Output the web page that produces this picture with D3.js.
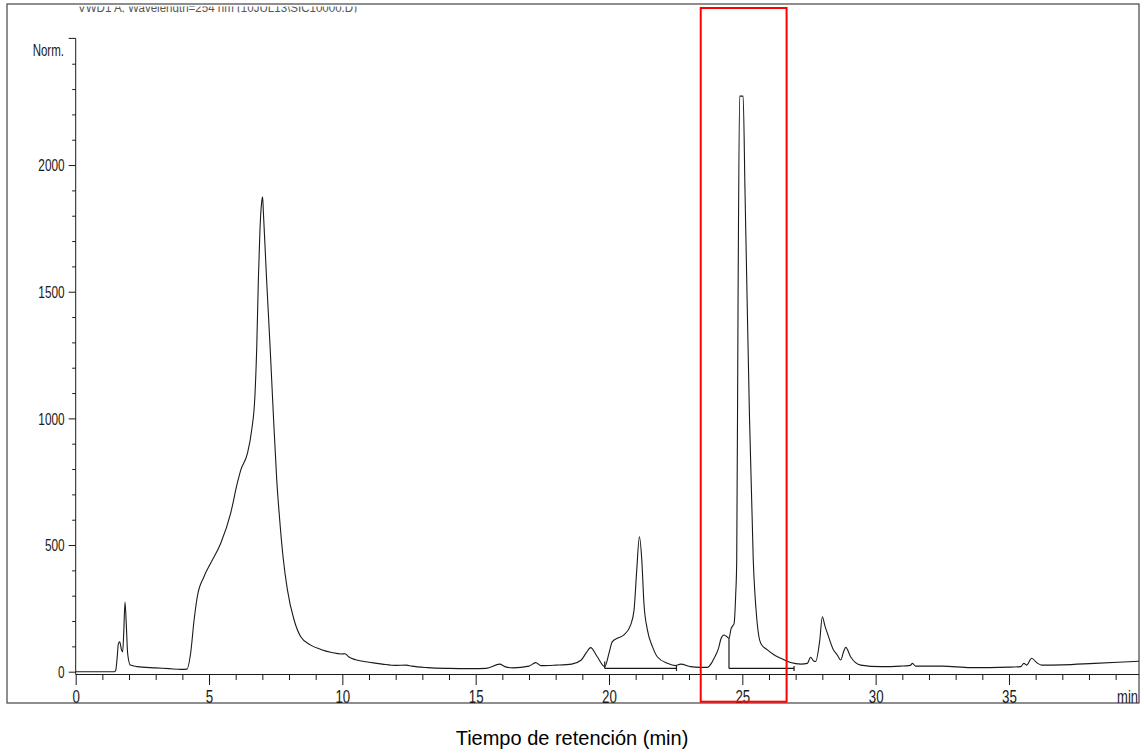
<!DOCTYPE html>
<html><head><meta charset="utf-8">
<script src="https://cdn.jsdelivr.net/npm/d3@7"></script>
<style>
html,body{margin:0;padding:0;background:#fff;}
svg{display:block;font-family:"Liberation Sans",Arial,sans-serif;}
</style></head>
<body>
<svg id="chart" width="1144" height="755"></svg>
<script>
// ---- data ----
const headerText = "VWD1 A, Wavelength=254 nm (10JUL13\\SIC10000.D)";
const yLabel = "Norm.";
const xUnit = "min";
const xTitle = "Tiempo de retención (min)";
const xMajorTicks = [0, 5, 10, 15, 20, 25, 30, 35];
const yMajorTicks = [0, 500, 1000, 1500, 2000];
const timeMin = [
  0, 1.45, 1.5, 1.55, 1.6, 1.65, 1.72, 1.76, 1.8, 1.85, 1.9, 1.95, 2.05, 2.3, 3.0, 3.5, 3.94, 4.17,
  4.31, 4.44, 4.56, 4.81, 5.06, 5.44, 5.81, 6.06, 6.19, 6.44, 6.6, 6.72, 6.79, 6.85, 6.91, 6.97, 7.01,
  7.04, 7.1, 7.16, 7.29, 7.41, 7.54, 7.65, 7.78, 7.94, 8.19, 8.44, 8.81, 9.19, 9.6, 9.95, 10.1, 10.25, 10.5,
  11.0, 11.5, 12.0, 12.4, 12.6, 13.2, 14.0, 14.8, 15.4, 15.9, 16.1, 16.4, 17.0, 17.25, 17.45, 18.0,
  18.6, 18.95, 19.15, 19.31, 19.56, 19.84, 20.0, 20.12, 20.31, 20.56, 20.81, 20.94, 21.04, 21.14,
  21.23, 21.31, 21.44, 21.63, 21.81, 22.19, 22.5, 22.69, 23.06, 23.4, 23.69, 23.85, 23.94, 24.1,
  24.2, 24.31, 24.4, 24.5, 24.58, 24.62, 24.69, 24.75, 24.79, 24.84, 24.9, 25.03, 25.1, 25.18,
  25.27, 25.41, 25.55, 25.69, 25.94, 26.2, 26.44, 26.81, 27.2, 27.44, 27.56, 27.68, 27.75, 27.9,
  28.0, 28.1, 28.19, 28.4, 28.56, 28.69, 28.8, 28.88, 29.06, 29.44, 30.19, 30.94, 31.3, 31.38,
  31.5, 32.5, 33.56, 35.0, 35.44, 35.56, 35.66, 35.85, 36.05, 36.22, 37.0, 38.2, 40
];
const signalNorm = [
  0, 0, 5, 50, 110, 118, 85, 78, 150, 275, 180, 70, 26, 20, 15, 12, 9, 10,
  73, 204, 296, 375, 428, 507, 625, 744, 796, 862, 954, 1086, 1283, 1546, 1744, 1850, 1875,
  1810, 1680, 1546, 1283, 1020, 757, 600, 450, 323, 204, 138, 105, 88, 76, 70, 71, 58, 47,
  37, 30, 25, 26, 22, 16, 13, 12, 13, 30, 20, 15, 22, 36, 24, 26,
  30, 45, 75, 95, 59, 20, 73, 118, 132, 145, 184, 244, 401, 533,
  441, 270, 165, 99, 59, 33, 24, 30, 20, 17, 17, 35, 53, 90,
  130, 145, 140, 132, 170, 178, 190, 300, 441, 1467, 2272, 2272, 1900, 1467,
  1000, 441, 200, 112, 86, 66, 53, 36, 30, 33, 57, 42, 40, 120,
  217, 180, 152, 90, 66, 46, 80, 96, 59, 26, 20, 22, 25, 33,
  22, 22, 16, 18, 20, 33, 26, 53, 35, 26, 27, 33, 42
];
// integration baselines: [start min, end min, level]
const baselineStart = [19.84, 24.5];
const baselineEnd = [22.53, 26.94];
const baselineLevel = [13, 13];
const baselineDropFrom = [null, 132];
// highlighted retention window (min)
const highlightWindow = [23.44, 26.66];

// ---- drawing ----
const svg = d3.select("#chart");
const frame = {x0: 7, y0: 4, x1: 1139, y1: 703};
const x = d3.scaleLinear().domain([0, 40]).range([75.7, 1142.3]);
const y = d3.scaleLinear().domain([0, 2500]).range([671.7, 38.4]);
const axisY = 674.5;
const inkColor = "#1a1a1a";
const FONT = "Liberation Sans, Arial, sans-serif";

svg.append("defs").append("clipPath").attr("id", "plotclip")
  .append("rect").attr("x", frame.x0).attr("y", frame.y0).attr("width", frame.x1 - frame.x0).attr("height", frame.y1 - frame.y0);
svg.select("defs").append("clipPath").attr("id", "hdrclip")
  .append("rect").attr("x", 60).attr("y", 6.5).attr("width", 400).attr("height", 6);

// header (clipped)
svg.append("text").attr("x", 78).attr("y", 11.5).attr("font-size", 12.5)
  .attr("textLength", 279).attr("lengthAdjust", "spacingAndGlyphs")
  .attr("fill", "#555").attr("clip-path", "url(#hdrclip)").text(headerText);

// outer frame
svg.append("rect").attr("x", frame.x0).attr("y", frame.y0)
  .attr("width", frame.x1 - frame.x0).attr("height", frame.y1 - frame.y0)
  .attr("fill", "none").attr("stroke", "#444").attr("stroke-width", 1.2);

// helper for condensed text
function ctext(g, tx, ty, str, size, sx, anchor) {
  return g.append("text").attr("transform", `translate(${tx},${ty}) scale(${sx},1)`)
    .attr("font-size", size).attr("text-anchor", anchor).attr("fill", inkColor).text(str);
}

// Y axis
const yMinor = d3.range(100, 2500, 100).filter(v => v % 500 !== 0);
const gY = svg.append("g").attr("transform", `translate(${x(0)},0)`);
gY.call(d3.axisLeft(y).tickValues(yMinor).tickSize(3.5).tickSizeOuter(0).tickFormat(""));
gY.call(g => g.select(".domain").remove());
const gYm = svg.append("g").attr("transform", `translate(${x(0)},0)`);
gYm.call(d3.axisLeft(y).tickValues(yMajorTicks).tickSize(7).tickSizeOuter(7).tickFormat(d3.format("d")));
gYm.selectAll(".tick text").attr("x", 0).attr("dy", null)
  .attr("transform", "translate(-11,5.8) scale(0.74,1)").attr("font-size", 16)
  .attr("font-family", FONT).attr("fill", inkColor);
gYm.select(".domain").attr("d", `M-7,${y(2500)}H0V${axisY}`);
svg.selectAll(".tick line").attr("stroke", inkColor);
svg.selectAll(".domain").attr("stroke", inkColor);
ctext(svg, 64, 56, yLabel, 16, 0.72, "end");

// X axis
const xMinor = d3.range(1, 40, 1).filter(v => v % 5 !== 0);
const gX = svg.append("g").attr("transform", `translate(0,${axisY})`);
gX.call(d3.axisBottom(x).tickValues(xMinor).tickSize(5.5).tickSizeOuter(0).tickFormat(""));
gX.select(".domain").remove();
const gXm = svg.append("g").attr("transform", `translate(0,${axisY})`);
gXm.call(d3.axisBottom(x).tickValues(xMajorTicks).tickSize(10.5).tickSizeOuter(0).tickFormat(d3.format("d")));
gXm.select(".domain").remove();
gXm.selectAll(".tick text").attr("y", 0).attr("dy", null)
  .attr("transform", "translate(0,28) scale(0.74,1)").attr("font-size", 18)
  .attr("font-family", FONT).attr("fill", inkColor);
svg.selectAll(".tick line").attr("stroke", inkColor);
svg.append("line").attr("x1", x(0)).attr("x2", frame.x1).attr("y1", axisY).attr("y2", axisY)
  .attr("stroke", inkColor).attr("stroke-width", 1.2);
ctext(svg, frame.x1 - 1, axisY + 28, xUnit, 18, 0.72, "end");

// signal trace
const pts = timeMin.map((t, i) => ({t, v: signalNorm[i]}));
svg.append("path").datum(pts)
  .attr("clip-path", "url(#plotclip)")
  .attr("fill", "none").attr("stroke", inkColor).attr("stroke-width", 1.1)
  .attr("stroke-linejoin", "round")
  .attr("d", d3.line().x(d => x(d.t)).y(d => y(d.v)).curve(d3.curveMonotoneX));

// integration baselines
baselineStart.forEach((s, i) => {
  const e = baselineEnd[i], lv = baselineLevel[i];
  const g = svg.append("g").attr("stroke", inkColor).attr("stroke-width", 1.2).attr("fill", "none");
  g.append("line").attr("x1", x(s)).attr("x2", x(e)).attr("y1", y(lv)).attr("y2", y(lv));
  g.append("line").attr("x1", x(e)).attr("x2", x(e)).attr("y1", y(lv) - 2.5).attr("y2", y(lv) + 2.5);
  if (baselineDropFrom[i] !== null) {
    g.append("line").attr("x1", x(s)).attr("x2", x(s)).attr("y1", y(baselineDropFrom[i])).attr("y2", y(lv));
  } else {
    g.append("line").attr("x1", x(s)).attr("x2", x(s)).attr("y1", y(lv) - 7).attr("y2", y(lv));
  }
});

// highlight window
svg.append("rect").attr("x", x(highlightWindow[0])).attr("y", 8)
  .attr("width", x(highlightWindow[1]) - x(highlightWindow[0])).attr("height", 701.7 - 8)
  .attr("fill", "none").attr("stroke", "#ff0000").attr("stroke-width", 2);

// x title
svg.append("text").attr("x", 572).attr("y", 745).attr("text-anchor", "middle")
  .attr("font-size", 20).attr("fill", "#000").text(xTitle);
</script>
</body></html>
